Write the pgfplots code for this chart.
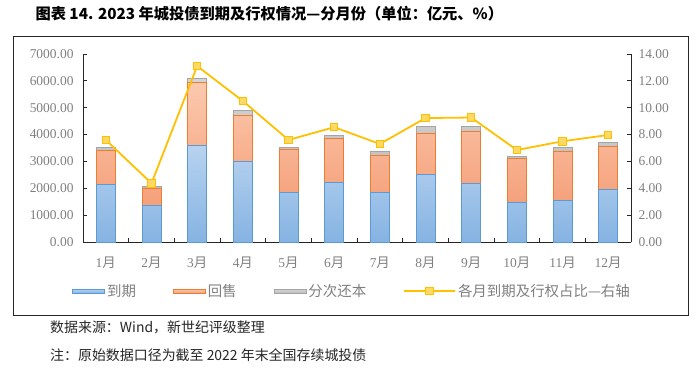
\documentclass[border=0pt]{standalone}
\usepackage{fontspec}
\setmainfont{Liberation Serif}
\newfontfamily\cjk{Noto Sans CJK SC}
\usepackage{pgfplots}
\usepackage{pgfplotstable}
\pgfplotsset{compat=1.18}
\definecolor{bluetop}{HTML}{B8D3F0}
\definecolor{bluebot}{HTML}{85B3E2}
\definecolor{blueedge}{HTML}{5B9BD5}
\definecolor{ortop}{HTML}{FBC9AE}
\definecolor{orbot}{HTML}{F5A07A}
\definecolor{oredge}{HTML}{ED7D31}
\definecolor{grtop}{HTML}{D4D4D4}
\definecolor{grbot}{HTML}{BDBDBD}
\definecolor{gredge}{HTML}{A5A5A5}
\definecolor{lineyel}{HTML}{FFC000}
\definecolor{markfill}{HTML}{FFD966}
\definecolor{labgray}{HTML}{7F7F7F}
\definecolor{axisc}{HTML}{262626}
\pgfplotsset{
  barleg/.style={legend image code/.code={\draw[##1] (0bp,-2bp) rectangle (32bp,2bp);}},
  lineleg/.style={legend image code/.code={\draw[##1,mark repeat=2,mark phase=2] plot coordinates {(0bp,0bp)(16bp,0bp)(32bp,0bp)};}},
}
\pgfplotstableread{
x blue orange gray line
0 2130 1290 100 7.60
1 1350 660 60 4.37
2 3600 2340 140 13.10
3 3000 1700 200 10.50
4 1850 1610 60 7.60
5 2220 1650 110 8.55
6 1850 1390 150 7.30
7 2510 1550 250 9.23
8 2180 1940 190 9.27
9 1490 1610 100 6.85
10 1540 1850 130 7.50
11 1950 1600 150 7.97
}\data
\begin{document}
\begin{tikzpicture}[x=1bp,y=1bp]
\path[use as bounding box] (0,0) rectangle (700,369);
\draw[color=axisc, line width=0.8bp] (13,54) rectangle (688,333);
\node[anchor=west, font=\fontsize{15.3}{17}\selectfont\bfseries] at (32,355)
  {\cjk{图表} 14. 2023 \cjk{年城投债到期及行权情况—分月份（单位：亿元、}\%\cjk{）}};
\node[anchor=west, font=\fontsize{14}{16}\selectfont, text=black!85, inner sep=0pt] at (50,42)
  {\cjk{数据来源：}Wind\cjk{，新世纪评级整理}};
\node[anchor=west, font=\fontsize{14}{16}\selectfont, text=black!85, inner sep=0pt] at (50,14)
  {\cjk{注：原始数据口径为截至} 2022 \cjk{年末全国存续城投债}};
\begin{axis}[
  at={(83bp,127bp)}, anchor=south west,
  width=548bp, height=188bp, scale only axis,
  xmin=-0.5, xmax=11.5, ymin=0, ymax=7000,
  axis x line*=bottom, axis y line*=left,
  axis line style={color=axisc, line width=0.8bp},
  tick style={color=axisc, line width=0.8bp},
  tick align=inside, major tick length=4bp,
  xtick={-0.5,0.5,...,11.5},
  x tick label as interval,
  xticklabels={1\cjk{月},2\cjk{月},3\cjk{月},4\cjk{月},5\cjk{月},6\cjk{月},7\cjk{月},8\cjk{月},9\cjk{月},10\cjk{月},11\cjk{月},12\cjk{月}},
  xticklabel style={yshift=-11bp},
  ytick={0,1000,...,7000},
  yticklabel style={xshift=-6bp},
  ticklabel style={font=\fontsize{13.5}{15}\selectfont, text=labgray},
  /pgf/number format/assume math mode=true,
  /pgf/number format/.cd, fixed, fixed zerofill, precision=2, 1000 sep={}, /pgfplots/.cd,
  ybar stacked, bar width=19bp,
  legend columns=4,
  legend style={at={(0.491,-0.261)}, anchor=center, draw=none, fill=none,
    font=\fontsize{14.5}{16}\selectfont, text=labgray,
    /tikz/every even column/.append style={column sep=35bp},
    /tikz/every odd column/.append style={column sep=0bp}},
]
\addplot[draw=blueedge, line width=0.8bp, top color=bluetop, bottom color=bluebot, barleg]
  table[x=x,y=blue]{\data};
\addlegendentry{\cjk{到期}}
\addplot[draw=oredge, line width=0.8bp, top color=ortop, bottom color=orbot, barleg]
  table[x=x,y=orange]{\data};
\addlegendentry{\cjk{回售}}
\addplot[draw=gredge, line width=0.8bp, top color=grtop, bottom color=grbot, barleg]
  table[x=x,y=gray]{\data};
\addlegendentry{\cjk{分次还本}}
\addlegendimage{color=lineyel, line width=1.8bp, mark=square*,
  mark options={fill=markfill, draw=lineyel, line width=1bp}, mark size=3.8bp, lineleg}
\addlegendentry{\cjk{各月到期及行权占比—右轴}}
\end{axis}
\begin{axis}[
  at={(83bp,127bp)}, anchor=south west,
  width=548bp, height=188bp, scale only axis,
  xmin=-0.5, xmax=11.5, ymin=0, ymax=14,
  axis x line=none, axis y line*=right,
  axis line style={color=axisc, line width=0.8bp},
  tick style={color=axisc, line width=0.8bp},
  tick align=inside, major tick length=4bp,
  ytick={0,2,...,14},
  yticklabel style={xshift=4bp},
  ticklabel style={font=\fontsize{13.5}{15}\selectfont, text=labgray},
  /pgf/number format/assume math mode=true,
  /pgf/number format/.cd, fixed, fixed zerofill, precision=2, /pgfplots/.cd,
  clip=false,
]
\addplot[color=lineyel, line width=1.8bp, mark=square*,
  mark options={fill=markfill, draw=lineyel, line width=1bp}, mark size=3.8bp]
  table[x=x,y=line]{\data};
\end{axis}
\end{tikzpicture}
\end{document}
